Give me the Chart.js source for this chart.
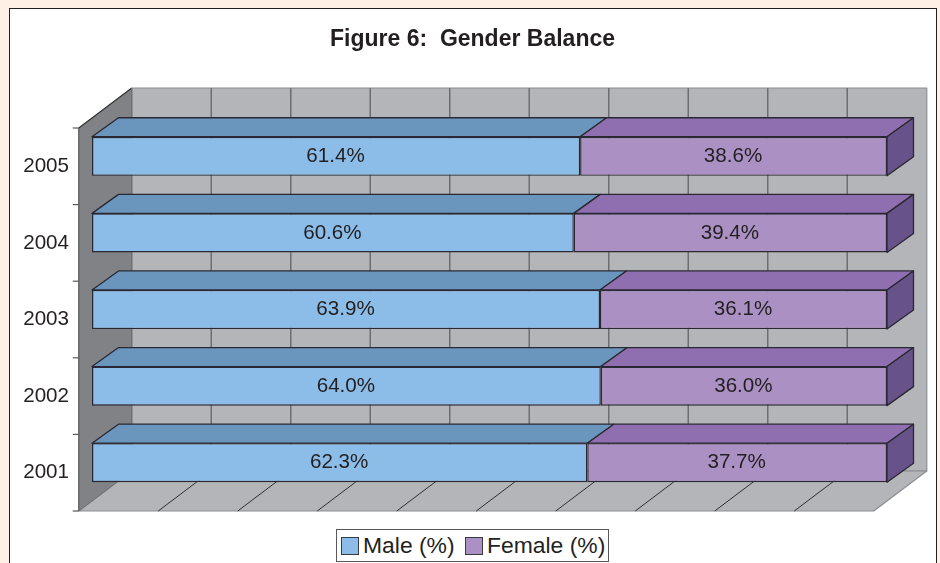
<!DOCTYPE html>
<html>
<head>
<meta charset="utf-8">
<title>Figure 6: Gender Balance</title>
<script src="https://cdn.jsdelivr.net/npm/chart.js@4"></script>
<style>
    html, body { margin: 0; padding: 0; width: 940px; height: 563px; overflow: hidden; background: #FEF0E4; }
    #panel { position: absolute; left: 9px; top: 8px; width: 926px; height: 600px; background: #fff; border: 1.5px solid #231F20; }
    #wrap { position: absolute; left: 0; top: 0; width: 940px; height: 563px; }
    #title {
        position: absolute; left: 9px; top: 25px; width: 927px; text-align: center; white-space: pre;
        font: bold 23px "Liberation Sans", Arial, sans-serif; color: #231F20;
    }
    #legend {
        position: absolute; left: 336px; top: 529px; width: 271px; height: 31px;
        border: 1.5px solid #58595B; background: #fff;
        font: 22.9px "Liberation Sans", Arial, sans-serif; color: #231F20;
    }
    #legend i { position: absolute; top: 7px; width: 16px; height: 16px; border: 1px solid #3a3a42; }
    #legend span { position: absolute; top: 2px; white-space: nowrap; }
</style>
</head>
<body>
<div id="panel"></div>
<div id="wrap"><canvas id="chart" width="940" height="563"></canvas></div>
<div id="title">Figure 6:  Gender Balance</div>
<div id="legend"></div>

<script>
// --- DATA ---
const years = ["2001", "2002", "2003", "2004", "2005"];
const male = [62.3, 64.0, 63.9, 60.6, 61.4];
const female = [37.7, 36.0, 36.1, 39.4, 38.6];
const xTicks = { min: 0, max: 100, step: 10 };

const FONT = '"Liberation Sans", Arial, sans-serif';
const TEXT = "#231F20";

// full depth of the fake 3D box, the bars sit from 1/4 to 3/4 of it
const DEPTH_X = 53, DEPTH_Y = 40;

function poly(ctx, pts, fill, stroke, lw) {
    ctx.beginPath();
    pts.forEach((p, i) => i ? ctx.lineTo(p[0], p[1]) : ctx.moveTo(p[0], p[1]));
    ctx.closePath();
    if (fill) { ctx.fillStyle = fill; ctx.fill(); }
    if (stroke) { ctx.strokeStyle = stroke; ctx.lineWidth = lw || 1; ctx.lineJoin = "round"; ctx.stroke(); }
}

function line(ctx, x1, y1, x2, y2, color, lw) {
    ctx.beginPath();
    ctx.moveTo(x1, y1);
    ctx.lineTo(x2, y2);
    ctx.strokeStyle = color;
    ctx.lineWidth = lw;
    ctx.stroke();
}

// chart area is the plane of the bars' front faces, d=0 is the front of the box, d=1 the back wall
function at(px, py, d) {
    return [px + (d - 0.25) * DEPTH_X, py - (d - 0.25) * DEPTH_Y];
}

const box3d = {
    id: "box3d",
    beforeDatasetsDraw(chart) {
        const ctx = chart.ctx, a = chart.chartArea;
        const xs = chart.scales.x, ys = chart.scales.y;
        ctx.save();

        // walls and floor
        poly(ctx, [at(a.left, a.top, 1), at(a.right, a.top, 1), at(a.right, a.bottom, 1), at(a.left, a.bottom, 1)], "#B4B5B8", "#8D8E91", 1.2);
        poly(ctx, [at(a.left, a.bottom, 0), at(a.right, a.bottom, 0), at(a.right, a.bottom, 1), at(a.left, a.bottom, 1)], "#B4B5B8", "#8D8E91", 1.2);
        poly(ctx, [at(a.left, a.top, 0), at(a.left, a.top, 1), at(a.left, a.bottom, 1), at(a.left, a.bottom, 0)], "#808285");

        // grid on back wall and floor
        xs.ticks.forEach(t => {
            if (t.value === xTicks.min) return;
            const px = xs.getPixelForValue(t.value);
            const top = at(px, a.top, 1), back = at(px, a.bottom, 1), front = at(px, a.bottom, 0);
            if (t.value < xTicks.max) {
                line(ctx, top[0], top[1], back[0], back[1], "#6D6E71", 1.5);
                line(ctx, back[0], back[1], front[0], front[1], "#2F2F33", 1);
            }
        });

        // left wall edges and tick marks
        const lt = at(a.left, a.top, 0), lb = at(a.left, a.bottom, 0), bt = at(a.left, a.top, 1), bb = at(a.left, a.bottom, 1);
        line(ctx, lt[0], lt[1], bt[0], bt[1], "#2F2F33", 1.2);
        line(ctx, lt[0], lt[1], lb[0], lb[1], "#58595B", 1.2);
        line(ctx, lb[0], lb[1], bb[0], bb[1], "#6D6E71", 1);
        line(ctx, bt[0], bt[1], bb[0], bb[1], "#6D6E71", 1.2);
        const band = (ys.bottom - ys.top) / years.length;
        for (let i = 0; i <= years.length; i++) {
            const p = at(a.left, ys.top + i * band, 0);
            line(ctx, p[0] - 6, p[1], p[0], p[1], "#58595B", 1.2);
        }

        // top and end faces of the bars, front faces are the chart's own bars
        const dx = DEPTH_X / 2, dy = 19;
        const edge = "#2A2833";
        chart.data.datasets.forEach((ds, i) => {
            chart.getDatasetMeta(i).data.forEach(bar => {
                const t = bar.y - bar.height / 2, b = bar.y + bar.height / 2;
                poly(ctx, [[bar.base, t], [bar.x, t], [bar.x + dx, t - dy], [bar.base + dx, t - dy]], ds.topColor, edge, 1.3);
                if (i === chart.data.datasets.length - 1) {
                    poly(ctx, [[bar.x, t], [bar.x + dx, t - dy], [bar.x + dx, b - dy], [bar.x, b]], ds.sideColor, edge, 1.3);
                }
            });
        });
        ctx.restore();
    },
    afterDatasetsDraw(chart) {
        const ctx = chart.ctx;
        ctx.save();
        ctx.font = "20.6px " + FONT;
        ctx.fillStyle = TEXT;
        ctx.textAlign = "center";
        ctx.textBaseline = "middle";
        chart.data.datasets.forEach((ds, i) => {
            chart.getDatasetMeta(i).data.forEach((bar, j) => {
                ctx.fillText(ds.data[j].toFixed(1) + "%", (bar.base + bar.x) / 2 - 0.5, bar.y);
            });
        });
        ctx.restore();
    }
};

const chart = new Chart(document.getElementById("chart"), {
    type: "bar",
    data: {
        labels: years,
        datasets: [
            { label: "Male (%)", data: male, backgroundColor: "#8BBDE8", topColor: "#6A96BE", sideColor: "#5A80A6" },
            { label: "Female (%)", data: female, backgroundColor: "#AB90C4", topColor: "#8F6FAF", sideColor: "#675289" }
        ]
    },
    options: {
        indexAxis: "y",
        responsive: false,
        animation: false,
        layout: { padding: { left: 5, right: 53, top: 118, bottom: 62 } },
        datasets: { bar: { barPercentage: 0.51, categoryPercentage: 1, borderColor: "#2A2833", borderWidth: 1.4, borderSkipped: false } },
        scales: {
            x: {
                stacked: true,
                min: xTicks.min,
                max: xTicks.max,
                ticks: { stepSize: xTicks.step, display: false },
                grid: { display: false },
                border: { display: false },
                afterFit(scale) { scale.height = 0; }
            },
            y: {
                stacked: true,
                reverse: true,
                grid: { display: false },
                border: { display: false },
                ticks: {
                    color: TEXT,
                    font: { family: FONT, size: 20.6 },
                    padding: 15,
                    labelOffset: 10,
                    autoSkip: false
                },
                afterFit(scale) { scale.width = 87; }
            }
        },
        plugins: {
            legend: { display: false },
            tooltip: { enabled: false },
            title: { display: false }
        }
    },
    plugins: [box3d]
});

// legend box is plain HTML so the swatch/text spacing can follow the original
const legendX = [[4, 26], [128, 150]];
const legendEl = document.getElementById("legend");
chart.data.datasets.forEach((ds, i) => {
    legendEl.innerHTML += `<i style="left:${legendX[i][0]}px;background:${ds.backgroundColor}"></i><span style="left:${legendX[i][1]}px">${ds.label}</span>`;
});
</script>
</body>
</html>
